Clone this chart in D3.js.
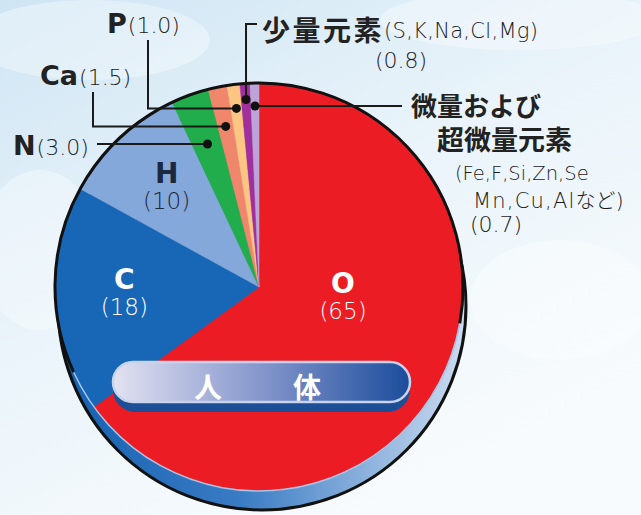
<!DOCTYPE html>
<html>
<head>
<meta charset="utf-8">
<script src="https://cdn.jsdelivr.net/npm/d3@7"></script>
<style>
  body { margin: 0; background: #fff; }
  text { font-family: "DejaVu Sans", "Noto Sans CJK JP", sans-serif; }
  .jp { font-family: "Noto Sans CJK JP", sans-serif; }
</style>
</head>
<body>
<div id="chart"></div>
<script>
// human body element composition (% by weight)
var elements = ["O", "C", "H", "N", "Ca", "P", "少量元素", "微量および超微量元素"];
var percents = [65, 18, 10, 3.0, 1.5, 1.0, 0.8, 0.7];
var colours  = ["#ec1c24", "#1867b6", "#85a8da", "#21ad4b", "#f0876c", "#fcc682", "#a22f9e", "#bca4d8"];

var width = 641,
    height = 515;

var cx = 259, cy = 287, r = 204;

var svg = d3.select("#chart").append("svg")
    .attr("width", width)
    .attr("height", height);

var defs = svg.append("defs");

// background sky
var bg = defs.append("linearGradient").attr("id", "bg")
    .attr("x1", 0).attr("y1", 0).attr("x2", 0.6).attr("y2", 1);
bg.append("stop").attr("offset", 0).attr("stop-color", "#cfe5f4");
bg.append("stop").attr("offset", 0.5).attr("stop-color", "#eaf4fa");
bg.append("stop").attr("offset", 1).attr("stop-color", "#f8fbfd");

var rim = defs.append("linearGradient").attr("id", "rim")
    .attr("x1", 0).attr("y1", 0).attr("x2", 1).attr("y2", 0);
rim.append("stop").attr("offset", 0).attr("stop-color", "#1560b0");
rim.append("stop").attr("offset", 0.45).attr("stop-color", "#3a7cc4");
rim.append("stop").attr("offset", 1).attr("stop-color", "#cddcf0");

var band = defs.append("linearGradient").attr("id", "band")
    .attr("x1", 0).attr("y1", 0).attr("x2", 1).attr("y2", 0);
band.append("stop").attr("offset", 0).attr("stop-color", "#e2e2f0");
band.append("stop").attr("offset", 0.5).attr("stop-color", "#8596cc");
band.append("stop").attr("offset", 1).attr("stop-color", "#1b4d9b");

svg.append("rect").attr("width", width).attr("height", height).attr("fill", "url(#bg)");

// soft clouds
[[90, 40, 120, 40], [520, 20, 140, 30], [560, 300, 90, 60], [40, 250, 60, 80]].forEach(function(c) {
  svg.append("ellipse").attr("cx", c[0]).attr("cy", c[1]).attr("rx", c[2]).attr("ry", c[3])
     .attr("fill", "#ffffff").attr("opacity", 0.35);
});

// 3d rim under the face
svg.append("circle")
    .attr("cx", cx + 3).attr("cy", cy + 19).attr("r", r)
    .attr("fill", "url(#rim)")
    .attr("stroke", "#111").attr("stroke-width", 3);

var pie = d3.pie().sort(null).value(function(d) { return d; });
var arcs = pie(percents);

var arc = d3.arc().innerRadius(0).outerRadius(r);

var g = svg.append("g").attr("transform", "translate(" + cx + "," + cy + ")");

g.selectAll("path.slice")
    .data(arcs)
    .enter().append("path")
    .attr("class", "slice")
    .attr("d", arc)
    .attr("fill", function(d, i) { return colours[i]; })
    .attr("stroke", function(d, i) { return colours[i]; })
    .attr("stroke-width", 0.5);

// outline: black on top, light edge where the rim shows
var edge = d3.arc().innerRadius(r).outerRadius(r);
g.append("path")
    .attr("d", edge({startAngle: -2.0, endAngle: 1.75}))
    .attr("fill", "none").attr("stroke", "#111").attr("stroke-width", 3);
g.append("path")
    .attr("d", edge({startAngle: 1.75, endAngle: 4.28}))
    .attr("fill", "none").attr("stroke", "#a9c6ea").attr("stroke-width", 1.5);

// band 人 体
svg.append("rect")
    .attr("x", 113).attr("y", 368).attr("width", 297).attr("height", 44).attr("rx", 22)
    .attr("fill", "#1d4f96");
svg.append("rect")
    .attr("x", 113).attr("y", 362).attr("width", 297).attr("height", 40).attr("rx", 20)
    .attr("fill", "url(#band)")
    .attr("stroke", "#c9d3ee").attr("stroke-width", 2.5);
svg.append("text").attr("class", "jp").attr("x", 208).attr("y", 398).attr("text-anchor", "middle")
    .attr("fill", "#fff").attr("font-size", 28).attr("font-weight", 700).text("人");
svg.append("text").attr("class", "jp").attr("x", 307).attr("y", 398).attr("text-anchor", "middle")
    .attr("fill", "#fff").attr("font-size", 28).attr("font-weight", 700).text("体");

// labels inside the pie
var labelArc = d3.arc().innerRadius(135).outerRadius(135);
var inside = [
  {i: 0, pos: [84, 12], fill: "#fff"},
  {i: 1, pos: labelArc.centroid(arcs[1]), fill: "#fff"},
  {i: 2, pos: labelArc.centroid(arcs[2]), fill: "#1c2740"}
];
inside.forEach(function(l) {
  var t = g.append("text").attr("text-anchor", "middle").attr("fill", l.fill);
  t.append("tspan").attr("x", l.pos[0]).attr("y", l.pos[1] - 6)
    .attr("font-size", 28).attr("font-weight", 700).text(elements[l.i]);
  t.append("tspan").attr("x", l.pos[0]).attr("y", l.pos[1] + 20)
    .attr("font-size", 23).attr("font-weight", 200).text("(" + percents[l.i] + ")");
});

// leader dots at the middle of the thin slices
var dotR = [null, null, null, 152, 164, 180, 188, 181];
function dotPos(i) {
  var a = (arcs[i].startAngle + arcs[i].endAngle) / 2;
  return [cx + dotR[i] * Math.sin(a), cy - dotR[i] * Math.cos(a)];
}
var pN = dotPos(3), pCa = dotPos(4), pP = dotPos(5), pS = dotPos(6), pT = dotPos(7);

var leaders = [
  [[97, pN[1]], pN],
  [[93, 92], [93, pCa[1]], pCa],
  [[148, 40], [148, pP[1]], pP],
  [[257, 24], [pS[0], 24], pS],
  [pT, [402, pT[1]]]
];
var line = d3.line();
svg.selectAll("path.leader")
    .data(leaders)
    .enter().append("path")
    .attr("class", "leader")
    .attr("d", line)
    .attr("fill", "none").attr("stroke", "#1a1a1a").attr("stroke-width", 2);

svg.selectAll("circle.dot")
    .data([pN, pCa, pP, pS, pT])
    .enter().append("circle")
    .attr("class", "dot")
    .attr("cx", function(d) { return d[0]; })
    .attr("cy", function(d) { return d[1]; })
    .attr("r", 4.5)
    .attr("fill", "#111");

// outside labels
function symLabel(x, y, sym, val) {
  var t = svg.append("text").attr("x", x).attr("y", y).attr("fill", "#222");
  t.append("tspan").attr("font-size", 27).attr("font-weight", 700).text(sym);
  t.append("tspan").attr("font-size", 22).attr("font-weight", 200).attr("fill", "#1a1a1a")
    .attr("dx", 1).text("(" + val.toFixed(1) + ")");
}
symLabel(13, 155, elements[3], percents[3]);
symLabel(40, 85, elements[4], percents[4]);
symLabel(107, 33, elements[5], percents[5]);

var s = svg.append("text").attr("x", 262).attr("y", 41).attr("fill", "#222");
s.append("tspan").attr("class", "jp").attr("font-size", 28).attr("font-weight", 700)
  .attr("letter-spacing", 2.5).text(elements[6]);
s.append("tspan").attr("font-size", 21).attr("font-weight", 200).attr("fill", "#1a1a1a")
  .attr("dy", -3).attr("letter-spacing", 0.3).text("(S,K,Na,Cl,Mg)");
svg.append("text").attr("x", 375).attr("y", 68).attr("fill", "#1a1a1a")
    .attr("font-size", 22).attr("font-weight", 200).text("(" + percents[6] + ")");

svg.append("text").attr("class", "jp").attr("x", 411).attr("y", 116).attr("fill", "#222")
    .attr("font-size", 26).attr("font-weight", 700).text("微量および");
svg.append("text").attr("class", "jp").attr("x", 437).attr("y", 150).attr("fill", "#222")
    .attr("font-size", 27).attr("font-weight", 700).text("超微量元素");
svg.append("text").attr("x", 455).attr("y", 180).attr("fill", "#1a1a1a")
    .attr("font-size", 19.5).attr("font-weight", 200).text("(Fe,F,Si,Zn,Se");
var mn = svg.append("text").attr("x", 473).attr("y", 208).attr("fill", "#1a1a1a")
    .attr("font-size", 21).attr("font-weight", 200);
mn.append("tspan").attr("letter-spacing", 1.2).text("Mn,Cu,Al");
mn.append("tspan").attr("class", "jp").attr("font-size", 20).text("など");
mn.append("tspan").text(")");
svg.append("text").attr("x", 470).attr("y", 232).attr("fill", "#1a1a1a")
    .attr("font-size", 22).attr("font-weight", 200).text("(" + percents[7] + ")");
</script>
</body>
</html>
